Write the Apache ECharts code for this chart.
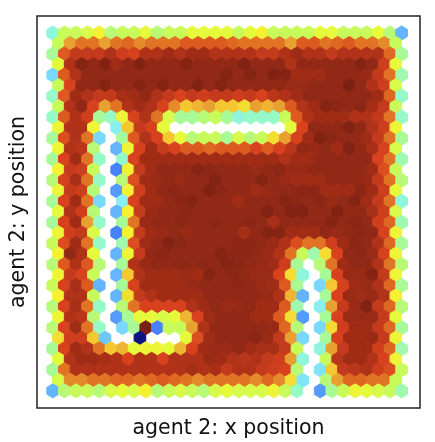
<!DOCTYPE html>
<html><head><meta charset="utf-8">
<style>html,body{margin:0;padding:0;background:#fff}#c{width:435px;height:442px}</style>
<script src="https://cdn.jsdelivr.net/npm/echarts@6/dist/echarts.min.js"></script>
</head><body><div id="c"></div>
<script>
const _ = null;
const xLabel = 'agent 2: x position';
const yLabel = 'agent 2: y position';
const row00 = [5.5,8,8,8.5,10,7.5,8,8,9,7.5,8,8,9,9,9,9,8,9,10,8,8,8,8,9,9,8,8,8,9,7.5,3];
const row01 = [8,12,13,13,12,13,13.5,12.5,13,13,13,14,14,14,14,13.5,13,13,13,13,12,14,14,13,13.5,14,13,13,12.5,8];
const row02 = [7,14,16,16,16,17,15.5,15,17,17,18,17,18,18,17,17,17,17,16,16,17,18,17,17,16,17,17,17,17,13.5,7];
const row03 = [9,17,20,19,20.5,18,19,20.5,19,19,19,20,19,19,19,19,20.5,19,19,19,17,19,19,19,19,19,20,19,15.5,9];
const row04 = [4,14,17,19,19,19,19,19,19,19,19,19,19,19,19,20,19,20,19,20.5,20,18,18,18,19,19,19,18.5,16,13,6.5];
const row05 = [8,15,19,19,20,19,19,20,19,20,19,19,20.5,19,20,19,19,19,19,19,18.5,18.5,19,19,19,21,19,17,15.5,8.5];
const row06 = [6,14,18,17,16,16,17.5,18,19,17,16,15,16,15.5,16,16,15.5,16,15,16.5,17,18,19,19,19,19,19,19,18,13.5,6];
const row07 = [8,17,19,15,12,13,17,18,17,15,12.5,11,11.5,12,11,11,10.5,12,11.5,12,14,17,18,20,19.5,19,19.5,17.5,16,8];
const row08 = [6,14,17,15.5,7,6,9.5,15,17,13,8.5,7,7,7.5,8,7,5.5,6,6,6,8,14,17,18,18,18,17,17,16,13,6];
const row09 = [9.5,17,17,9.5,_,5,11,16,15,9,_,_,_,_,_,_,_,_,_,_,9,15,19,19,19,20.5,19,17,15.5,9.5];
const row10 = [7,14.5,17,13,4,_,7,14,17,15,11,9,7.5,8,8,7,8.5,7.5,8,10.5,12,15,18,20.5,19.5,19,19,18,16,13,7];
const row11 = [9.5,17,16.5,7.5,_,3,9.5,15,18,16,15,14,14,13.5,14,14,14,15,14,15,16.5,19,18.5,19,18,20.5,19,17.5,15,8.5];
const row12 = [7,15,18,13,6,_,6,15,18,18,18,18,18,18,18,18,18,18,18,18,17,18,18,19,19,19,19,19,15,13,6.5];
const row13 = [10,16,15.5,8,_,2,10,16,18,19,19,19,20,19.5,19,19,19,18.5,19,19.5,18.5,18.5,19,19,19,19,19,18,14.5,8];
const row14 = [7.5,15,17.5,13,6,_,7.5,14.5,18,18.5,19,18.5,19,19,20,19,19,19,20,19,18.5,18,18,18,19,19,19,18.5,16,13,7.5];
const row15 = [9.5,16,15.5,7.5,_,2.5,10,15.5,18,19,19.5,19,19,20.5,19.5,19,19,18,18.5,19,19,19.5,19.5,18,18,18,19.5,18,15.5,9];
const row16 = [7,15,18,13,4,_,5,15,18,18,19,19.5,20,19,19,19,18,19,19,19,20,19.5,19,19.5,18.5,19,20,18,16,13,5.5];
const row17 = [9,17,15.5,7.5,_,3,10,16,18.5,19,19,19.5,19,19,19,19,19,19,20.5,19,20.5,20.5,19,19,20.5,19,19,17.5,15.5,8.5];
const row18 = [7,15,18,12,6,_,7,13,18.5,19,19,19.5,19,19,19.5,19,19,19.5,19,17.5,19,19,19,19,20,19,19.5,19,15.5,13.5,6.5];
const row19 = [9.5,15.5,16,8.5,_,2,10,16,18,18.5,19,18.5,19,19,19,19,17.5,19,20,20,18,18,18,19,18.5,19,19.5,19,15,9.5];
const row20 = [8,14.5,18,13,6,_,6.5,14.5,18,19,20.5,19.5,19,19,19,19,19.5,19.5,19,18.5,17,14.5,13,13,15.5,18,19.5,19,17,13.5,7];
const row21 = [10,19,17,9,_,3,9.5,16,19,19.5,19,19,19,19,20,19.5,19.5,19,18.5,17,13,8,6.5,10.5,15,19,19.5,18.5,15,9.5];
const row22 = [7.5,14,17,14,7.5,_,7,17,18.5,19,19,19.5,19,19.5,19,20,19.5,19,18.5,18,15.5,7,_,7.5,13,18,19,19,17,13,7.5];
const row23 = [9.5,16,15,8,_,3,11,17,18,18,18,18.5,18,20,19,19.5,19,18.5,18.5,15,10.5,5.5,_,7,15,18.5,18.5,20,16,9.5];
const row24 = [8,15,17.5,14,3,_,7,15,18,18,18,18,18.5,19,19,19,19.5,19,18.5,18,14,7,_,4,11,15,18,18.5,17,13.5,7];
const row25 = [10,17,17,8,_,3,10.5,16,17,18,18,18,18,19,19,19,19,19,18.5,17,11.5,3,_,7,15,18.5,18,18.5,17,10];
const row26 = [7.5,15,17.5,13,6,_,7.5,13,15,15,15,15,17,18,19,18.5,18.5,19,18,18,14,6.5,_,5,12,16,18.5,20.5,16,13.5,7.5];
const row27 = [9.5,17,16.5,7.5,_,2.5,7,9,9,8.5,9,11.5,15,18,19,19,19,18,18,14,10.5,2.5,_,7,15,18.5,18.5,18.5,16,9];
const row28 = [7.5,15,18,13,6,_,4,7,21,2,8,8,12,17,19,19,19,19,19,18.5,13.5,7.5,_,4,10.5,15.5,18,18,16,13.5,7];
const row29 = [10.5,15.5,15.5,11,3.5,_,_,1,_,_,_,9,14.5,18,19,19,19,19.5,18.5,16,12,4,_,7,15,18,18,18.5,16,9.5];
const row30 = [7,15,18,17,13,11,11.5,9,9.5,9.5,9,11.5,15,18,18.5,18.5,19,18,17.5,17.5,16,8,_,5.5,12,16,18,18,15.5,13.5,6.5];
const row31 = [9,17,18,18,17.5,17,15,17,17,15,17,17,17,18.5,18,17,16.5,17,16,15.5,12,5.5,_,8,16.5,18,18,17,15,9.5];
const row32 = [7,13,17,17,17,17,17,17,17,17,17,17,17.5,17,17.5,16,17,17,16,15.5,15,7.5,_,4.5,11,16,16.5,17,15.5,14.5,8];
const row33 = [8.5,12.5,12.5,13,13,13.5,13.5,13,13.5,14,13.5,13,12.5,13,13,13,13,12.5,13.5,12.5,10.5,4.5,_,7.5,12,13.5,13.5,13,13,8];
const row34 = [3,7.5,8,8,7.5,8.5,9,8.5,10,7.5,8,8.5,8,7.5,8.5,9,8.5,8.5,8.5,9.5,8,6,_,2.5,7,8,9.5,9,8.5,8,6.5];
const rows = [row00,row01,row02,row03,row04,row05,row06,row07,row08,row09,row10,row11,row12,row13,row14,row15,row16,row17,row18,row19,row20,row21,row22,row23,row24,row25,row26,row27,row28,row29,row30,row31,row32,row33,row34];
const palette = ['#0a1482','#4682ff','#64b4ff','#78d8ff','#88f0f0','#96fac8','#a8fa96','#c8fa5a','#e6fa3c','#f5f032','#f5c832','#e8a030','#e07424','#dc5a20','#d7411e','#c43a1c','#b03218','#a02c16','#922816','#862414','#7c2012'];

const cells = [];
rows.forEach((row, r) => row.forEach((v, i) => {
  if (v !== null) cells.push([i + (r % 2 ? 0.5 : 0), r, v]);
}));
const hex = [[0.5,-1/3],[0.5,1/3],[0,2/3],[-0.5,1/3],[-0.5,-1/3],[0,-2/3]];

const chart = echarts.init(document.getElementById('c'), null, {renderer:'canvas'});
chart.setOption({
  animation:false,
  backgroundColor:'#fff',
  grid:{left:37,top:16,width:383,height:392,outerBoundsMode:'none',containLabel:false,show:true,borderColor:'#222',borderWidth:1.5,backgroundColor:'transparent'},
  xAxis:{type:'value',min:-1.35,max:31.58,name:xLabel,nameLocation:'middle',nameGap:10,
    nameTextStyle:{fontFamily:'DejaVu Sans',fontSize:20.5,color:'#111'},
    axisLine:{show:false},axisTick:{show:false},axisLabel:{show:false},splitLine:{show:false}},
  yAxis:{type:'value',inverse:true,min:-1.61,max:35.63,name:yLabel,nameLocation:'middle',nameGap:8,nameRotate:90,
    nameTextStyle:{fontFamily:'DejaVu Sans',fontSize:20.5,color:'#111'},
    axisLine:{show:false},axisTick:{show:false},axisLabel:{show:false},splitLine:{show:false}},
  visualMap:{show:false,type:'continuous',dimension:2,min:1,max:21,inRange:{color:palette},seriesIndex:0},
  series:[{
    type:'custom',
    coordinateSystem:'cartesian2d',
    data:cells,
    encode:{x:0,y:1},
    renderItem:(params,api)=>{
      const x=api.value(0), y=api.value(1);
      const pts=hex.map(h=>api.coord([x+h[0],y+h[1]]));
      const c=api.visual('color');
      return {type:'polygon',shape:{points:pts},style:{fill:c,stroke:c,lineWidth:1}};
    }
  }]
});
</script></body></html>
